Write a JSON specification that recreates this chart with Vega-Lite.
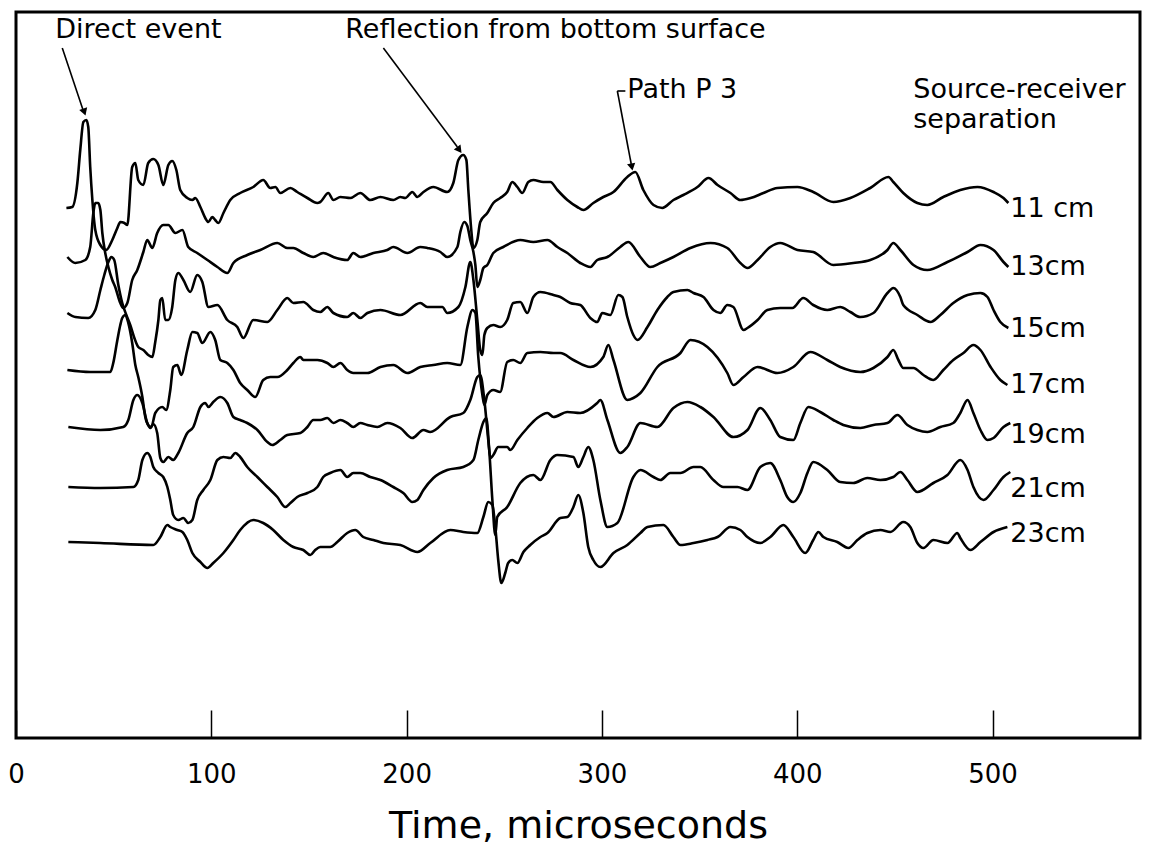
{
"$schema": "https://vega.github.io/schema/vega-lite/v6.json",
"width": 1124, "height": 726,
"autosize": {"type": "none"},
"padding": {"left": 16, "top": 12, "right": 11, "bottom": 108},
"background": "white",
"config": {"view": {"stroke": "black", "strokeWidth": 3}, "font": "DejaVu Sans"},
"datasets": {
"traces": [
{"s":"11","t":25.8,"v":530},{"s":"11","t":28.8,"v":531},{"s":"11","t":31.4,"v":555},{"s":"11","t":32.9,"v":588},{"s":"11","t":34.5,"v":616},{"s":"11","t":36.0,"v":618},{"s":"11","t":37.0,"v":611},{"s":"11","t":38.0,"v":571},{"s":"11","t":39.1,"v":538},{"s":"11","t":40.6,"v":508},{"s":"11","t":43.2,"v":493},{"s":"11","t":46.2,"v":488},{"s":"11","t":49.3,"v":498},{"s":"11","t":51.9,"v":510},{"s":"11","t":53.4,"v":516},{"s":"11","t":55.5,"v":515},{"s":"11","t":57.0,"v":513},{"s":"11","t":59.5,"v":571},{"s":"11","t":61.1,"v":575},{"s":"11","t":62.6,"v":558},{"s":"11","t":65.2,"v":553},{"s":"11","t":67.7,"v":575},{"s":"11","t":70.3,"v":579},{"s":"11","t":72.9,"v":573},{"s":"11","t":75.4,"v":553},{"s":"11","t":78.0,"v":573},{"s":"11","t":80.0,"v":577},{"s":"11","t":82.1,"v":568},{"s":"11","t":84.1,"v":548},{"s":"11","t":87.7,"v":540},{"s":"11","t":90.3,"v":538},{"s":"11","t":91.8,"v":540},{"s":"11","t":94.4,"v":531},{"s":"11","t":96.9,"v":520},{"s":"11","t":98.5,"v":516},{"s":"11","t":100.5,"v":521},{"s":"11","t":102.0,"v":518},{"s":"11","t":103.6,"v":515},{"s":"11","t":106.2,"v":525},{"s":"11","t":109.7,"v":538},{"s":"11","t":114.8,"v":545},{"s":"11","t":121.5,"v":551},{"s":"11","t":126.6,"v":558},{"s":"11","t":130.2,"v":550},{"s":"11","t":132.8,"v":551},{"s":"11","t":135.3,"v":545},{"s":"11","t":140.5,"v":550},{"s":"11","t":144.0,"v":546},{"s":"11","t":149.2,"v":540},{"s":"11","t":154.3,"v":535},{"s":"11","t":155.8,"v":536},{"s":"11","t":159.9,"v":545},{"s":"11","t":162.5,"v":538},{"s":"11","t":166.1,"v":541},{"s":"11","t":171.2,"v":540},{"s":"11","t":176.3,"v":545},{"s":"11","t":181.4,"v":538},{"s":"11","t":186.6,"v":541},{"s":"11","t":193.2,"v":538},{"s":"11","t":196.8,"v":541},{"s":"11","t":199.3,"v":540},{"s":"11","t":202.9,"v":546},{"s":"11","t":205.5,"v":541},{"s":"11","t":208.6,"v":546},{"s":"11","t":213.7,"v":551},{"s":"11","t":220.8,"v":546},{"s":"11","t":223.9,"v":555},{"s":"11","t":226.5,"v":578},{"s":"11","t":229.0,"v":583},{"s":"11","t":230.6,"v":578},{"s":"11","t":231.6,"v":548},{"s":"11","t":233.1,"v":508},{"s":"11","t":234.2,"v":490},{"s":"11","t":236.2,"v":498},{"s":"11","t":237.7,"v":516},{"s":"11","t":241.3,"v":525},{"s":"11","t":244.4,"v":535},{"s":"11","t":247.9,"v":540},{"s":"11","t":251.5,"v":546},{"s":"11","t":254.1,"v":556},{"s":"11","t":256.7,"v":551},{"s":"11","t":259.2,"v":545},{"s":"11","t":262.3,"v":556},{"s":"11","t":264.9,"v":558},{"s":"11","t":270.0,"v":556},{"s":"11","t":273.6,"v":556},{"s":"11","t":277.2,"v":548},{"s":"11","t":282.3,"v":538},{"s":"11","t":287.4,"v":531},{"s":"11","t":290.5,"v":528},{"s":"11","t":295.6,"v":535},{"s":"11","t":300.7,"v":541},{"s":"11","t":305.9,"v":546},{"s":"11","t":313.0,"v":561},{"s":"11","t":317.1,"v":566},{"s":"11","t":321.2,"v":548},{"s":"11","t":326.4,"v":533},{"s":"11","t":330.9,"v":530},{"s":"11","t":336.6,"v":538},{"s":"11","t":341.7,"v":543},{"s":"11","t":348.9,"v":551},{"s":"11","t":354.6,"v":560},{"s":"11","t":359.2,"v":553},{"s":"11","t":365.8,"v":545},{"s":"11","t":370.9,"v":538},{"s":"11","t":376.1,"v":540},{"s":"11","t":382.7,"v":545},{"s":"11","t":389.8,"v":550},{"s":"11","t":400.1,"v":551},{"s":"11","t":408.2,"v":546},{"s":"11","t":418.5,"v":536},{"s":"11","t":427.2,"v":540},{"s":"11","t":437.4,"v":550},{"s":"11","t":446.7,"v":561},{"s":"11","t":449.2,"v":556},{"s":"11","t":454.3,"v":545},{"s":"11","t":461.5,"v":535},{"s":"11","t":466.6,"v":533},{"s":"11","t":474.8,"v":541},{"s":"11","t":483.5,"v":548},{"s":"11","t":492.3,"v":551},{"s":"11","t":500.5,"v":546},{"s":"11","t":505.6,"v":540},{"s":"11","t":508.1,"v":535},
{"s":"13","t":26.3,"v":481},{"s":"13","t":30.4,"v":475},{"s":"13","t":35.5,"v":478},{"s":"13","t":38.0,"v":491},{"s":"13","t":39.6,"v":525},{"s":"13","t":40.6,"v":535},{"s":"13","t":42.1,"v":535},{"s":"13","t":43.2,"v":528},{"s":"13","t":44.2,"v":505},{"s":"13","t":45.7,"v":485},{"s":"13","t":47.3,"v":471},{"s":"13","t":49.3,"v":458},{"s":"13","t":50.8,"v":451},{"s":"13","t":53.4,"v":435},{"s":"13","t":54.9,"v":430},{"s":"13","t":57.0,"v":435},{"s":"13","t":59.5,"v":458},{"s":"13","t":62.1,"v":468},{"s":"13","t":65.2,"v":486},{"s":"13","t":67.2,"v":498},{"s":"13","t":69.8,"v":490},{"s":"13","t":72.3,"v":505},{"s":"13","t":75.4,"v":513},{"s":"13","t":78.0,"v":513},{"s":"13","t":81.6,"v":505},{"s":"13","t":85.2,"v":508},{"s":"13","t":88.2,"v":491},{"s":"13","t":92.8,"v":485},{"s":"13","t":98.0,"v":478},{"s":"13","t":103.1,"v":471},{"s":"13","t":108.2,"v":465},{"s":"13","t":111.3,"v":475},{"s":"13","t":118.4,"v":483},{"s":"13","t":125.1,"v":488},{"s":"13","t":133.8,"v":495},{"s":"13","t":138.9,"v":490},{"s":"13","t":142.0,"v":490},{"s":"13","t":147.1,"v":485},{"s":"13","t":152.2,"v":481},{"s":"13","t":157.3,"v":485},{"s":"13","t":162.5,"v":481},{"s":"13","t":169.6,"v":478},{"s":"13","t":172.7,"v":485},{"s":"13","t":176.3,"v":481},{"s":"13","t":183.0,"v":485},{"s":"13","t":190.1,"v":488},{"s":"13","t":193.2,"v":491},{"s":"13","t":200.4,"v":485},{"s":"13","t":207.0,"v":491},{"s":"13","t":210.6,"v":490},{"s":"13","t":217.3,"v":486},{"s":"13","t":220.8,"v":481},{"s":"13","t":226.0,"v":491},{"s":"13","t":227.5,"v":506},{"s":"13","t":229.5,"v":516},{"s":"13","t":231.1,"v":512},{"s":"13","t":232.6,"v":498},{"s":"13","t":234.2,"v":486},{"s":"13","t":235.2,"v":473},{"s":"13","t":236.2,"v":451},{"s":"13","t":237.7,"v":458},{"s":"13","t":239.3,"v":470},{"s":"13","t":241.3,"v":473},{"s":"13","t":244.4,"v":485},{"s":"13","t":249.5,"v":491},{"s":"13","t":258.2,"v":498},{"s":"13","t":264.9,"v":496},{"s":"13","t":272.1,"v":498},{"s":"13","t":277.2,"v":491},{"s":"13","t":282.3,"v":485},{"s":"13","t":288.9,"v":475},{"s":"13","t":294.1,"v":471},{"s":"13","t":297.6,"v":478},{"s":"13","t":302.8,"v":481},{"s":"13","t":309.4,"v":491},{"s":"13","t":313.5,"v":496},{"s":"13","t":319.7,"v":481},{"s":"13","t":324.8,"v":471},{"s":"13","t":329.9,"v":475},{"s":"13","t":336.6,"v":481},{"s":"13","t":345.3,"v":490},{"s":"13","t":355.6,"v":495},{"s":"13","t":364.2,"v":490},{"s":"13","t":370.9,"v":475},{"s":"13","t":374.5,"v":470},{"s":"13","t":379.7,"v":478},{"s":"13","t":386.2,"v":491},{"s":"13","t":391.3,"v":495},{"s":"13","t":400.1,"v":488},{"s":"13","t":408.2,"v":486},{"s":"13","t":418.5,"v":473},{"s":"13","t":428.7,"v":475},{"s":"13","t":437.4,"v":478},{"s":"13","t":446.2,"v":488},{"s":"13","t":449.2,"v":495},{"s":"13","t":452.8,"v":488},{"s":"13","t":459.5,"v":473},{"s":"13","t":466.6,"v":468},{"s":"13","t":476.9,"v":476},{"s":"13","t":487.2,"v":486},{"s":"13","t":493.8,"v":493},{"s":"13","t":500.5,"v":488},{"s":"13","t":505.6,"v":476},{"s":"13","t":508.1,"v":471},
{"s":"15","t":26.3,"v":425},{"s":"15","t":30.4,"v":421},{"s":"15","t":37.0,"v":420},{"s":"15","t":40.6,"v":428},{"s":"15","t":43.2,"v":448},{"s":"15","t":45.2,"v":463},{"s":"15","t":47.3,"v":476},{"s":"15","t":48.8,"v":481},{"s":"15","t":50.3,"v":478},{"s":"15","t":52.4,"v":453},{"s":"15","t":54.4,"v":435},{"s":"15","t":56.5,"v":423},{"s":"15","t":58.5,"v":413},{"s":"15","t":60.6,"v":400},{"s":"15","t":62.6,"v":391},{"s":"15","t":65.2,"v":388},{"s":"15","t":67.7,"v":383},{"s":"15","t":69.8,"v":381},{"s":"15","t":71.3,"v":396},{"s":"15","t":72.9,"v":418},{"s":"15","t":73.9,"v":438},{"s":"15","t":74.9,"v":440},{"s":"15","t":76.4,"v":418},{"s":"15","t":78.0,"v":418},{"s":"15","t":80.0,"v":431},{"s":"15","t":81.6,"v":458},{"s":"15","t":83.1,"v":465},{"s":"15","t":85.7,"v":458},{"s":"15","t":89.2,"v":446},{"s":"15","t":92.8,"v":463},{"s":"15","t":95.4,"v":456},{"s":"15","t":98.5,"v":431},{"s":"15","t":103.1,"v":433},{"s":"15","t":108.2,"v":418},{"s":"15","t":113.3,"v":411},{"s":"15","t":116.4,"v":400},{"s":"15","t":121.5,"v":418},{"s":"15","t":128.7,"v":416},{"s":"15","t":133.8,"v":428},{"s":"15","t":138.9,"v":440},{"s":"15","t":142.0,"v":435},{"s":"15","t":147.1,"v":436},{"s":"15","t":152.2,"v":428},{"s":"15","t":155.8,"v":426},{"s":"15","t":159.4,"v":431},{"s":"15","t":162.5,"v":425},{"s":"15","t":169.6,"v":421},{"s":"15","t":172.7,"v":425},{"s":"15","t":176.3,"v":420},{"s":"15","t":179.9,"v":425},{"s":"15","t":186.6,"v":428},{"s":"15","t":196.8,"v":423},{"s":"15","t":207.0,"v":435},{"s":"15","t":210.6,"v":431},{"s":"15","t":218.3,"v":431},{"s":"15","t":220.8,"v":425},{"s":"15","t":226.5,"v":431},{"s":"15","t":230.1,"v":451},{"s":"15","t":232.6,"v":476},{"s":"15","t":234.2,"v":458},{"s":"15","t":236.2,"v":418},{"s":"15","t":237.7,"v":388},{"s":"15","t":238.8,"v":383},{"s":"15","t":239.8,"v":403},{"s":"15","t":241.3,"v":410},{"s":"15","t":244.4,"v":413},{"s":"15","t":247.9,"v":411},{"s":"15","t":251.5,"v":418},{"s":"15","t":254.6,"v":435},{"s":"15","t":258.2,"v":436},{"s":"15","t":261.8,"v":425},{"s":"15","t":264.9,"v":441},{"s":"15","t":268.5,"v":446},{"s":"15","t":275.2,"v":443},{"s":"15","t":278.7,"v":441},{"s":"15","t":283.8,"v":435},{"s":"15","t":288.9,"v":433},{"s":"15","t":294.1,"v":420},{"s":"15","t":297.6,"v":416},{"s":"15","t":300.2,"v":425},{"s":"15","t":304.3,"v":423},{"s":"15","t":308.4,"v":443},{"s":"15","t":310.5,"v":441},{"s":"15","t":313.0,"v":421},{"s":"15","t":316.1,"v":403},{"s":"15","t":318.2,"v":398},{"s":"15","t":323.3,"v":411},{"s":"15","t":328.4,"v":428},{"s":"15","t":333.5,"v":441},{"s":"15","t":336.6,"v":446},{"s":"15","t":343.8,"v":448},{"s":"15","t":346.9,"v":445},{"s":"15","t":352.0,"v":441},{"s":"15","t":357.1,"v":428},{"s":"15","t":360.6,"v":425},{"s":"15","t":364.2,"v":433},{"s":"15","t":367.3,"v":431},{"s":"15","t":372.5,"v":408},{"s":"15","t":374.5,"v":410},{"s":"15","t":379.7,"v":418},{"s":"15","t":384.7,"v":428},{"s":"15","t":391.3,"v":430},{"s":"15","t":397.5,"v":430},{"s":"15","t":403.1,"v":440},{"s":"15","t":408.2,"v":433},{"s":"15","t":415.4,"v":428},{"s":"15","t":422.0,"v":431},{"s":"15","t":427.2,"v":426},{"s":"15","t":432.3,"v":421},{"s":"15","t":439.0,"v":425},{"s":"15","t":446.2,"v":445},{"s":"15","t":449.2,"v":450},{"s":"15","t":452.8,"v":441},{"s":"15","t":454.3,"v":433},{"s":"15","t":461.5,"v":423},{"s":"15","t":468.2,"v":416},{"s":"15","t":473.3,"v":423},{"s":"15","t":479.9,"v":435},{"s":"15","t":487.2,"v":443},{"s":"15","t":493.8,"v":445},{"s":"15","t":497.4,"v":441},{"s":"15","t":500.5,"v":428},{"s":"15","t":504.0,"v":416},{"s":"15","t":508.1,"v":410},
{"s":"17","t":26.3,"v":368},{"s":"17","t":38.0,"v":366},{"s":"17","t":48.3,"v":366},{"s":"17","t":49.8,"v":375},{"s":"17","t":51.9,"v":398},{"s":"17","t":53.4,"v":413},{"s":"17","t":54.4,"v":420},{"s":"17","t":56.0,"v":423},{"s":"17","t":57.5,"v":415},{"s":"17","t":59.5,"v":395},{"s":"17","t":61.1,"v":373},{"s":"17","t":62.6,"v":361},{"s":"17","t":64.7,"v":341},{"s":"17","t":66.2,"v":321},{"s":"17","t":67.7,"v":313},{"s":"17","t":69.3,"v":311},{"s":"17","t":71.3,"v":325},{"s":"17","t":74.9,"v":331},{"s":"17","t":76.9,"v":328},{"s":"17","t":79.0,"v":348},{"s":"17","t":80.5,"v":371},{"s":"17","t":82.6,"v":373},{"s":"17","t":84.6,"v":363},{"s":"17","t":87.7,"v":388},{"s":"17","t":90.3,"v":406},{"s":"17","t":92.8,"v":405},{"s":"17","t":95.4,"v":395},{"s":"17","t":99.5,"v":406},{"s":"17","t":102.0,"v":398},{"s":"17","t":104.6,"v":378},{"s":"17","t":108.2,"v":375},{"s":"17","t":111.3,"v":368},{"s":"17","t":114.8,"v":355},{"s":"17","t":118.4,"v":348},{"s":"17","t":122.5,"v":341},{"s":"17","t":126.6,"v":358},{"s":"17","t":130.2,"v":361},{"s":"17","t":133.8,"v":361},{"s":"17","t":138.9,"v":368},{"s":"17","t":142.0,"v":375},{"s":"17","t":145.6,"v":381},{"s":"17","t":147.1,"v":378},{"s":"17","t":150.7,"v":378},{"s":"17","t":154.3,"v":378},{"s":"17","t":159.4,"v":375},{"s":"17","t":162.5,"v":371},{"s":"17","t":166.1,"v":375},{"s":"17","t":169.6,"v":368},{"s":"17","t":172.7,"v":365},{"s":"17","t":179.9,"v":365},{"s":"17","t":186.6,"v":371},{"s":"17","t":193.2,"v":373},{"s":"17","t":200.4,"v":365},{"s":"17","t":207.0,"v":371},{"s":"17","t":213.7,"v":373},{"s":"17","t":220.8,"v":375},{"s":"17","t":227.5,"v":373},{"s":"17","t":231.1,"v":411},{"s":"17","t":233.7,"v":428},{"s":"17","t":235.2,"v":425},{"s":"17","t":236.7,"v":381},{"s":"17","t":238.8,"v":343},{"s":"17","t":239.8,"v":333},{"s":"17","t":241.3,"v":343},{"s":"17","t":244.4,"v":348},{"s":"17","t":247.9,"v":346},{"s":"17","t":251.5,"v":376},{"s":"17","t":254.6,"v":378},{"s":"17","t":258.2,"v":375},{"s":"17","t":261.8,"v":385},{"s":"17","t":268.5,"v":386},{"s":"17","t":275.2,"v":385},{"s":"17","t":278.7,"v":385},{"s":"17","t":285.4,"v":378},{"s":"17","t":294.1,"v":371},{"s":"17","t":300.7,"v":381},{"s":"17","t":303.3,"v":393},{"s":"17","t":305.9,"v":378},{"s":"17","t":313.0,"v":338},{"s":"17","t":316.1,"v":340},{"s":"17","t":319.7,"v":345},{"s":"17","t":328.4,"v":371},{"s":"17","t":340.2,"v":385},{"s":"17","t":345.3,"v":398},{"s":"17","t":354.0,"v":391},{"s":"17","t":364.2,"v":365},{"s":"17","t":367.3,"v":353},{"s":"17","t":372.5,"v":361},{"s":"17","t":379.7,"v":371},{"s":"17","t":389.8,"v":365},{"s":"17","t":398.0,"v":371},{"s":"17","t":406.7,"v":386},{"s":"17","t":415.4,"v":378},{"s":"17","t":422.0,"v":371},{"s":"17","t":432.3,"v":366},{"s":"17","t":439.0,"v":370},{"s":"17","t":446.2,"v":381},{"s":"17","t":449.2,"v":388},{"s":"17","t":451.8,"v":378},{"s":"17","t":454.3,"v":370},{"s":"17","t":459.5,"v":370},{"s":"17","t":464.6,"v":363},{"s":"17","t":469.7,"v":358},{"s":"17","t":474.8,"v":368},{"s":"17","t":479.9,"v":378},{"s":"17","t":485.1,"v":385},{"s":"17","t":490.2,"v":393},{"s":"17","t":493.8,"v":388},{"s":"17","t":499.0,"v":371},{"s":"17","t":504.0,"v":358},{"s":"17","t":507.6,"v":353},
{"s":"19","t":26.8,"v":311},{"s":"19","t":43.2,"v":308},{"s":"19","t":54.9,"v":311},{"s":"19","t":57.5,"v":318},{"s":"19","t":60.1,"v":338},{"s":"19","t":62.1,"v":343},{"s":"19","t":64.7,"v":335},{"s":"19","t":67.2,"v":315},{"s":"19","t":68.8,"v":310},{"s":"19","t":70.3,"v":314},{"s":"19","t":72.3,"v":305},{"s":"19","t":73.9,"v":280},{"s":"19","t":75.4,"v":276},{"s":"19","t":78.0,"v":281},{"s":"19","t":80.5,"v":278},{"s":"19","t":83.1,"v":285},{"s":"19","t":87.7,"v":305},{"s":"19","t":90.8,"v":311},{"s":"19","t":94.4,"v":331},{"s":"19","t":96.9,"v":335},{"s":"19","t":98.5,"v":331},{"s":"19","t":101.0,"v":336},{"s":"19","t":104.6,"v":341},{"s":"19","t":108.2,"v":335},{"s":"19","t":111.3,"v":321},{"s":"19","t":114.8,"v":318},{"s":"19","t":118.4,"v":315},{"s":"19","t":123.6,"v":308},{"s":"19","t":128.7,"v":296},{"s":"19","t":131.2,"v":293},{"s":"19","t":135.3,"v":298},{"s":"19","t":138.9,"v":303},{"s":"19","t":145.6,"v":305},{"s":"19","t":149.2,"v":311},{"s":"19","t":152.2,"v":318},{"s":"19","t":155.8,"v":318},{"s":"19","t":159.4,"v":320},{"s":"19","t":162.5,"v":315},{"s":"19","t":166.1,"v":318},{"s":"19","t":169.6,"v":315},{"s":"19","t":172.7,"v":311},{"s":"19","t":176.3,"v":315},{"s":"19","t":179.9,"v":313},{"s":"19","t":185.0,"v":311},{"s":"19","t":190.1,"v":315},{"s":"19","t":196.8,"v":310},{"s":"19","t":202.9,"v":300},{"s":"19","t":208.6,"v":308},{"s":"19","t":212.1,"v":306},{"s":"19","t":222.4,"v":321},{"s":"19","t":229.0,"v":325},{"s":"19","t":232.6,"v":338},{"s":"19","t":236.2,"v":361},{"s":"19","t":237.7,"v":363},{"s":"19","t":239.8,"v":338},{"s":"19","t":241.8,"v":298},{"s":"19","t":242.9,"v":280},{"s":"19","t":244.4,"v":283},{"s":"19","t":246.9,"v":291},{"s":"19","t":251.5,"v":291},{"s":"19","t":253.1,"v":288},{"s":"19","t":256.7,"v":298},{"s":"19","t":261.8,"v":310},{"s":"19","t":266.9,"v":320},{"s":"19","t":272.1,"v":325},{"s":"19","t":275.2,"v":321},{"s":"19","t":282.3,"v":326},{"s":"19","t":288.9,"v":325},{"s":"19","t":297.6,"v":335},{"s":"19","t":299.2,"v":338},{"s":"19","t":302.8,"v":318},{"s":"19","t":309.4,"v":285},{"s":"19","t":313.0,"v":291},{"s":"19","t":319.7,"v":315},{"s":"19","t":328.4,"v":311},{"s":"19","t":336.6,"v":330},{"s":"19","t":343.8,"v":336},{"s":"19","t":350.4,"v":331},{"s":"19","t":357.1,"v":321},{"s":"19","t":367.3,"v":301},{"s":"19","t":374.5,"v":308},{"s":"19","t":381.1,"v":330},{"s":"19","t":386.2,"v":318},{"s":"19","t":391.3,"v":301},{"s":"19","t":398.0,"v":298},{"s":"19","t":401.6,"v":315},{"s":"19","t":405.7,"v":331},{"s":"19","t":411.8,"v":326},{"s":"19","t":418.5,"v":318},{"s":"19","t":423.6,"v":313},{"s":"19","t":432.3,"v":310},{"s":"19","t":439.0,"v":313},{"s":"19","t":446.2,"v":315},{"s":"19","t":451.3,"v":323},{"s":"19","t":456.4,"v":313},{"s":"19","t":461.5,"v":308},{"s":"19","t":466.6,"v":306},{"s":"19","t":473.3,"v":311},{"s":"19","t":479.9,"v":315},{"s":"19","t":483.5,"v":325},{"s":"19","t":487.2,"v":338},{"s":"19","t":490.2,"v":325},{"s":"19","t":493.8,"v":308},{"s":"19","t":497.4,"v":298},{"s":"19","t":500.5,"v":300},{"s":"19","t":505.6,"v":311},{"s":"19","t":509.1,"v":315},
{"s":"21","t":26.8,"v":251},{"s":"21","t":43.2,"v":250},{"s":"21","t":60.1,"v":251},{"s":"21","t":62.6,"v":258},{"s":"21","t":64.7,"v":278},{"s":"21","t":67.2,"v":285},{"s":"21","t":68.8,"v":281},{"s":"21","t":70.3,"v":271},{"s":"21","t":72.9,"v":265},{"s":"21","t":75.4,"v":261},{"s":"21","t":77.5,"v":251},{"s":"21","t":79.0,"v":238},{"s":"21","t":80.5,"v":223},{"s":"21","t":83.1,"v":218},{"s":"21","t":85.7,"v":220},{"s":"21","t":88.2,"v":215},{"s":"21","t":90.3,"v":218},{"s":"21","t":92.8,"v":238},{"s":"21","t":95.9,"v":248},{"s":"21","t":99.5,"v":258},{"s":"21","t":103.1,"v":278},{"s":"21","t":106.2,"v":281},{"s":"21","t":109.7,"v":280},{"s":"21","t":112.3,"v":285},{"s":"21","t":114.8,"v":281},{"s":"21","t":118.4,"v":271},{"s":"21","t":123.6,"v":261},{"s":"21","t":128.7,"v":251},{"s":"21","t":133.8,"v":241},{"s":"21","t":137.9,"v":231},{"s":"21","t":140.5,"v":235},{"s":"21","t":144.0,"v":241},{"s":"21","t":149.2,"v":245},{"s":"21","t":154.3,"v":251},{"s":"21","t":157.3,"v":261},{"s":"21","t":160.9,"v":265},{"s":"21","t":166.1,"v":268},{"s":"21","t":169.6,"v":261},{"s":"21","t":172.7,"v":265},{"s":"21","t":176.3,"v":265},{"s":"21","t":181.4,"v":261},{"s":"21","t":186.6,"v":258},{"s":"21","t":193.2,"v":251},{"s":"21","t":198.3,"v":245},{"s":"21","t":202.9,"v":236},{"s":"21","t":205.5,"v":238},{"s":"21","t":208.6,"v":248},{"s":"21","t":213.7,"v":260},{"s":"21","t":220.8,"v":268},{"s":"21","t":229.0,"v":271},{"s":"21","t":234.2,"v":278},{"s":"21","t":236.7,"v":298},{"s":"21","t":239.3,"v":316},{"s":"21","t":240.8,"v":320},{"s":"21","t":242.3,"v":288},{"s":"21","t":243.9,"v":238},{"s":"21","t":245.4,"v":203},{"s":"21","t":246.4,"v":221},{"s":"21","t":251.5,"v":231},{"s":"21","t":258.2,"v":255},{"s":"21","t":264.9,"v":263},{"s":"21","t":268.5,"v":258},{"s":"21","t":273.6,"v":278},{"s":"21","t":277.2,"v":283},{"s":"21","t":285.4,"v":281},{"s":"21","t":287.9,"v":271},{"s":"21","t":290.5,"v":281},{"s":"21","t":293.0,"v":291},{"s":"21","t":295.6,"v":278},{"s":"21","t":299.2,"v":238},{"s":"21","t":302.8,"v":211},{"s":"21","t":307.9,"v":215},{"s":"21","t":316.1,"v":261},{"s":"21","t":319.7,"v":268},{"s":"21","t":326.4,"v":261},{"s":"21","t":329.9,"v":258},{"s":"21","t":335.0,"v":265},{"s":"21","t":340.2,"v":265},{"s":"21","t":346.9,"v":271},{"s":"21","t":350.4,"v":271},{"s":"21","t":357.1,"v":258},{"s":"21","t":362.2,"v":251},{"s":"21","t":369.4,"v":251},{"s":"21","t":374.5,"v":248},{"s":"21","t":381.1,"v":271},{"s":"21","t":386.2,"v":275},{"s":"21","t":391.3,"v":258},{"s":"21","t":394.9,"v":241},{"s":"21","t":398.0,"v":236},{"s":"21","t":401.6,"v":245},{"s":"21","t":405.2,"v":265},{"s":"21","t":408.2,"v":276},{"s":"21","t":415.4,"v":268},{"s":"21","t":422.0,"v":256},{"s":"21","t":428.7,"v":255},{"s":"21","t":435.9,"v":260},{"s":"21","t":442.6,"v":258},{"s":"21","t":449.2,"v":261},{"s":"21","t":452.8,"v":266},{"s":"21","t":456.4,"v":258},{"s":"21","t":461.5,"v":246},{"s":"21","t":469.7,"v":255},{"s":"21","t":476.9,"v":263},{"s":"21","t":483.5,"v":278},{"s":"21","t":487.2,"v":268},{"s":"21","t":490.2,"v":251},{"s":"21","t":495.4,"v":238},{"s":"21","t":500.5,"v":248},{"s":"21","t":505.6,"v":261},{"s":"21","t":509.1,"v":266},
{"s":"23","t":26.8,"v":196},{"s":"23","t":43.2,"v":195},{"s":"23","t":70.3,"v":193},{"s":"23","t":73.9,"v":201},{"s":"23","t":77.5,"v":213},{"s":"23","t":79.0,"v":211},{"s":"23","t":82.6,"v":208},{"s":"23","t":85.2,"v":206},{"s":"23","t":87.7,"v":198},{"s":"23","t":90.3,"v":185},{"s":"23","t":94.4,"v":176},{"s":"23","t":98.0,"v":170},{"s":"23","t":101.0,"v":175},{"s":"23","t":106.2,"v":185},{"s":"23","t":111.3,"v":198},{"s":"23","t":114.8,"v":208},{"s":"23","t":121.5,"v":218},{"s":"23","t":126.6,"v":215},{"s":"23","t":131.7,"v":208},{"s":"23","t":136.9,"v":198},{"s":"23","t":142.0,"v":191},{"s":"23","t":147.1,"v":188},{"s":"23","t":150.7,"v":183},{"s":"23","t":153.2,"v":188},{"s":"23","t":155.8,"v":191},{"s":"23","t":160.9,"v":191},{"s":"23","t":164.5,"v":196},{"s":"23","t":169.6,"v":205},{"s":"23","t":173.7,"v":208},{"s":"23","t":177.8,"v":201},{"s":"23","t":183.0,"v":198},{"s":"23","t":188.1,"v":195},{"s":"23","t":196.8,"v":193},{"s":"23","t":205.5,"v":186},{"s":"23","t":212.1,"v":195},{"s":"23","t":222.4,"v":208},{"s":"23","t":229.0,"v":206},{"s":"23","t":236.2,"v":205},{"s":"23","t":239.3,"v":221},{"s":"23","t":241.8,"v":236},{"s":"23","t":243.9,"v":233},{"s":"23","t":245.4,"v":211},{"s":"23","t":246.9,"v":178},{"s":"23","t":248.5,"v":155},{"s":"23","t":250.5,"v":165},{"s":"23","t":252.0,"v":175},{"s":"23","t":254.1,"v":178},{"s":"23","t":256.7,"v":175},{"s":"23","t":259.8,"v":186},{"s":"23","t":263.3,"v":193},{"s":"23","t":268.5,"v":201},{"s":"23","t":272.1,"v":205},{"s":"23","t":278.7,"v":220},{"s":"23","t":282.3,"v":221},{"s":"23","t":285.4,"v":231},{"s":"23","t":287.9,"v":243},{"s":"23","t":290.5,"v":225},{"s":"23","t":293.0,"v":191},{"s":"23","t":295.6,"v":178},{"s":"23","t":299.2,"v":171},{"s":"23","t":305.9,"v":185},{"s":"23","t":313.0,"v":193},{"s":"23","t":319.7,"v":205},{"s":"23","t":323.3,"v":211},{"s":"23","t":331.5,"v":213},{"s":"23","t":336.6,"v":201},{"s":"23","t":340.2,"v":193},{"s":"23","t":346.9,"v":195},{"s":"23","t":354.0,"v":198},{"s":"23","t":359.2,"v":201},{"s":"23","t":365.8,"v":211},{"s":"23","t":370.9,"v":208},{"s":"23","t":374.5,"v":201},{"s":"23","t":381.1,"v":195},{"s":"23","t":386.2,"v":201},{"s":"23","t":392.9,"v":213},{"s":"23","t":398.0,"v":201},{"s":"23","t":404.1,"v":185},{"s":"23","t":408.2,"v":198},{"s":"23","t":410.8,"v":206},{"s":"23","t":413.4,"v":201},{"s":"23","t":420.5,"v":196},{"s":"23","t":426.2,"v":190},{"s":"23","t":430.8,"v":198},{"s":"23","t":435.9,"v":205},{"s":"23","t":442.6,"v":208},{"s":"23","t":447.7,"v":206},{"s":"23","t":454.3,"v":216},{"s":"23","t":457.9,"v":211},{"s":"23","t":461.5,"v":195},{"s":"23","t":464.6,"v":190},{"s":"23","t":469.7,"v":198},{"s":"23","t":476.9,"v":195},{"s":"23","t":482.0,"v":205},{"s":"23","t":483.5,"v":200},{"s":"23","t":488.7,"v":188},{"s":"23","t":493.8,"v":196},{"s":"23","t":500.5,"v":206},{"s":"23","t":507.6,"v":211}
],
"texts": [
{"t":20.1,"v":708,"text":"Direct event"},
{"t":168.6,"v":708,"text":"Reflection from bottom surface"},
{"t":313.0,"v":648,"text":"Path P 3"},
{"t":459.4,"v":648,"text":"Source-receiver"},
{"t":459.4,"v":618,"text":"separation"},
{"t":509.1,"v":529,"text":"11 cm"},
{"t":509.1,"v":471,"text":"13cm"},
{"t":509.1,"v":409,"text":"15cm"},
{"t":509.1,"v":353,"text":"17cm"},
{"t":509.1,"v":303,"text":"19cm"},
{"t":509.1,"v":249,"text":"21cm"},
{"t":509.1,"v":204,"text":"23cm"}
],
"arrows": [
{"t":23.7,"v":690,"t2":34.5,"v2":627},
{"t":188.1,"v":690,"t2":226.0,"v2":591},
{"t":312.0,"v":647,"t2":307.9,"v2":647},
{"t":307.9,"v":647,"t2":315.0,"v2":574}
],
"heads": [
{"note":"direct","t":35.0,"v":626},
{"note":"reflection","t":227.0,"v":588},
{"note":"path","t":315.3,"v":571}
]
},
"layer": [
{"data": {"name": "traces"},
 "mark": {"type": "line", "color": "black", "strokeWidth": 2.6, "interpolate": "monotone"},
 "encoding": {
  "x": {"field": "t", "type": "quantitative", "scale": {"domain": [0, 575.5], "nice": false, "zero": false},
        "axis": {"values": [0,100,200,300,400,500], "title": "Time, microseconds", "grid": false, "domain": false,
                 "tickSize": -28, "tickColor": "black", "tickWidth": 1.5, "labelFontSize": 26, "labelColor": "black",
                 "labelFont": "DejaVu Sans", "labelPadding": 72, "labelBaseline": "alphabetic", "labelFlush": false, "labelOverlap": false,
                 "titleFontSize": 38, "titleFont": "DejaVu Sans", "titleFontWeight": "normal", "titleColor": "black",
                 "titleY": 99, "titleBaseline": "alphabetic"}},
  "y": {"field": "v", "type": "quantitative", "scale": {"domain": [0, 726], "nice": false, "zero": false}, "axis": null},
  "detail": {"field": "s", "type": "nominal"}
 }},
{"data": {"name": "arrows"},
 "mark": {"type": "rule", "color": "black", "strokeWidth": 1.6},
 "encoding": {"x": {"field": "t", "type": "quantitative"}, "y": {"field": "v", "type": "quantitative"},
              "x2": {"field": "t2"}, "y2": {"field": "v2"}}},
{"data": {"name": "heads"}, "transform": [{"filter": "datum.note == 'direct'"}],
 "mark": {"type": "point", "shape": "triangle-down", "filled": true, "color": "black", "size": 70, "angle": 341, "opacity": 1},
 "encoding": {"x": {"field": "t", "type": "quantitative"}, "y": {"field": "v", "type": "quantitative"}}},
{"data": {"name": "heads"}, "transform": [{"filter": "datum.note == 'reflection'"}],
 "mark": {"type": "point", "shape": "triangle-down", "filled": true, "color": "black", "size": 70, "angle": 323, "opacity": 1},
 "encoding": {"x": {"field": "t", "type": "quantitative"}, "y": {"field": "v", "type": "quantitative"}}},
{"data": {"name": "heads"}, "transform": [{"filter": "datum.note == 'path'"}],
 "mark": {"type": "point", "shape": "triangle-down", "filled": true, "color": "black", "size": 70, "angle": 349, "opacity": 1},
 "encoding": {"x": {"field": "t", "type": "quantitative"}, "y": {"field": "v", "type": "quantitative"}}},
{"data": {"name": "texts"},
 "mark": {"type": "text", "align": "left", "baseline": "middle", "fontSize": 27, "font": "DejaVu Sans", "color": "black"},
 "encoding": {"x": {"field": "t", "type": "quantitative"}, "y": {"field": "v", "type": "quantitative"}, "text": {"field": "text"}}}
]
}
